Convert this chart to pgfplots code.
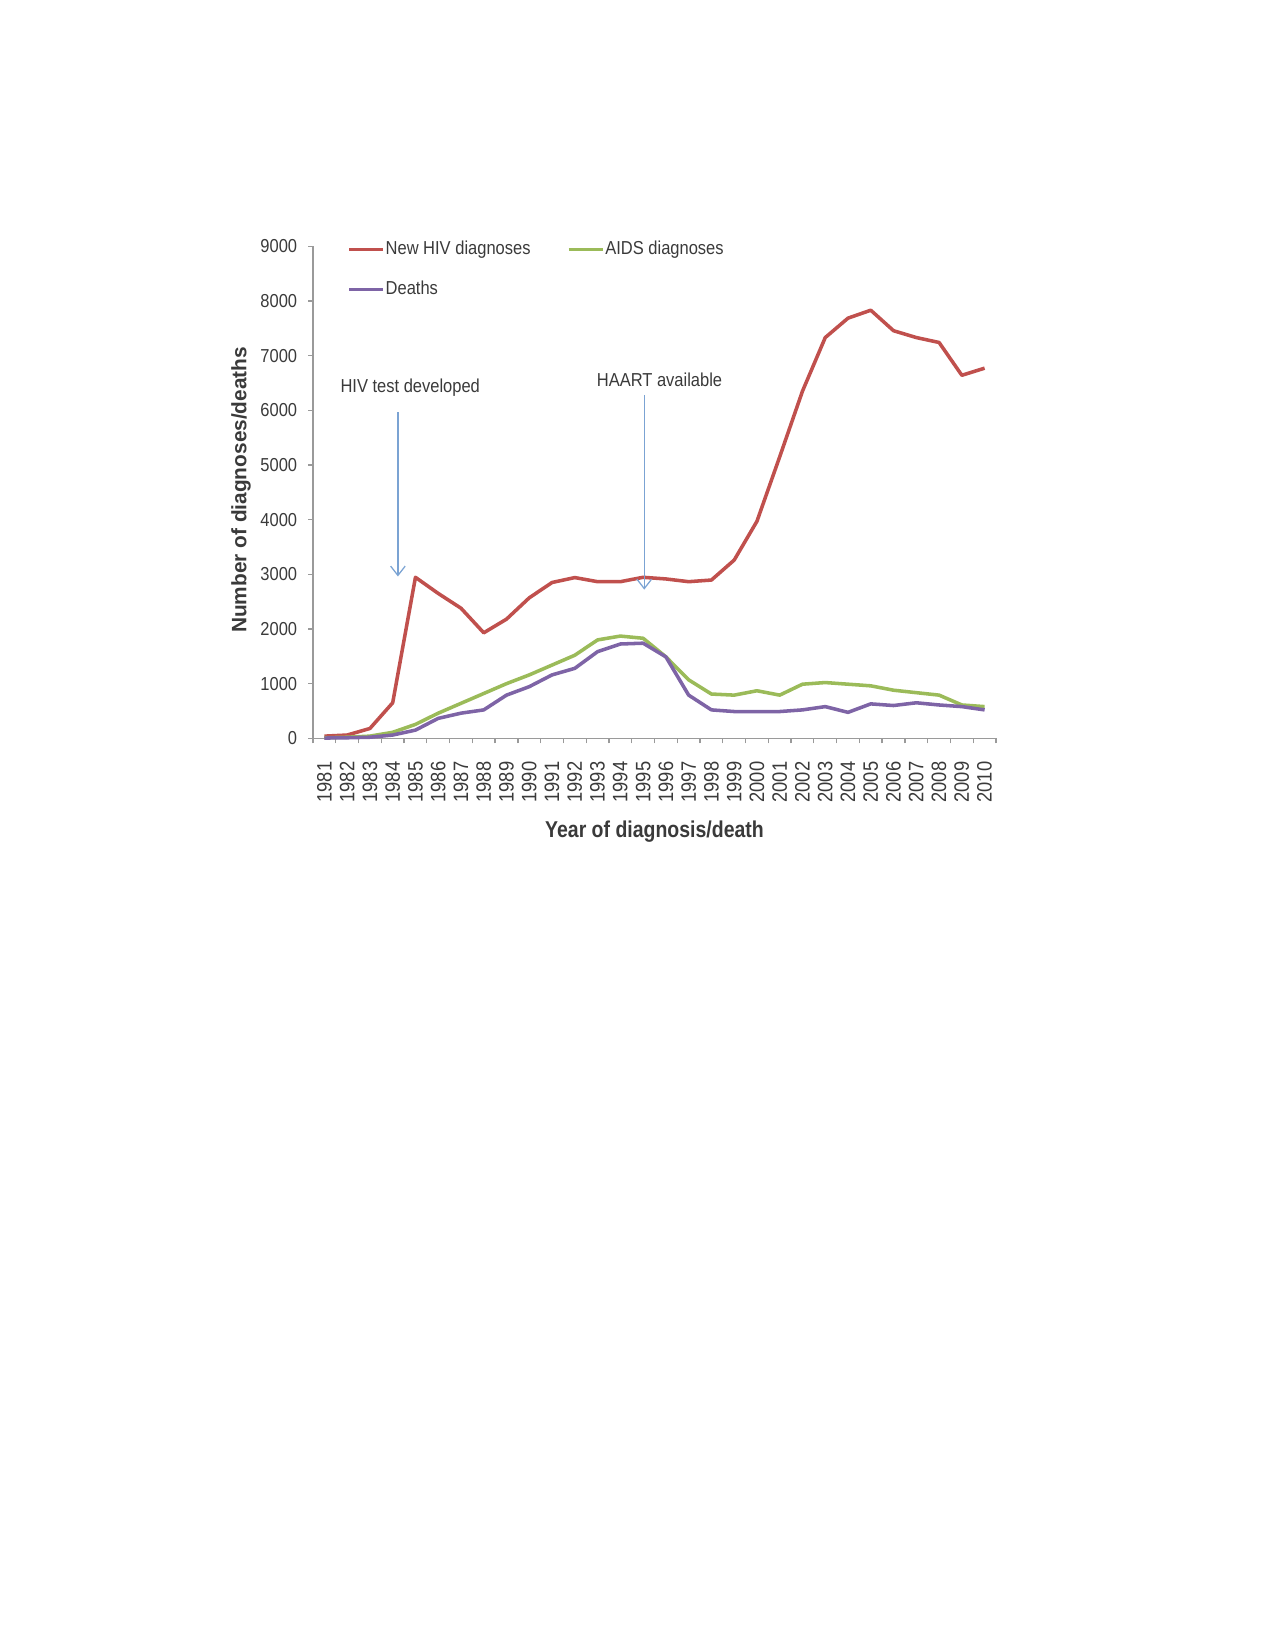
\documentclass[border=0pt]{standalone}
\usepackage{pgfplots}
\pgfplotsset{compat=1.18}
\usepackage{fontspec}
\setmainfont{Liberation Sans}
\newfontfamily\narrow{Liberation Sans}[FakeStretch=0.88]
\newfontfamily\narrowb{Liberation Sans}[FakeStretch=0.85]
\usetikzlibrary{arrows.meta}
\definecolor{cRed}{HTML}{C0504D}
\definecolor{cGreen}{HTML}{9BBB59}
\definecolor{cPurple}{HTML}{7E64A6}
\definecolor{axisgray}{HTML}{9A9A9A}
\definecolor{textgray}{HTML}{3A3A3A}
\definecolor{arrowblue}{HTML}{7BA3D3}
\begin{document}
\begin{tikzpicture}
\path[use as bounding box] (0,0) rectangle (612pt,792pt);
\begin{axis}[
  at={(150.24pt,437.6pt)}, anchor=south west,
  scale only axis, width=327.84pt, height=236.2pt,
  xmin=1980.5, xmax=2010.5, ymin=0, ymax=9000,
  axis x line*=bottom, axis y line*=left,
  axis line style={draw=axisgray, line width=0.7pt},
  /pgf/number format/assume math mode=true,
  /pgf/number format/1000 sep={},
  tick align=outside, major tick length=2.4pt,
  tick style={draw=axisgray, line width=0.6pt},
  xtick={1980.5,1981.5,...,2010.5},
  xticklabels={1981,1982,1983,1984,1985,1986,1987,1988,1989,1990,1991,1992,1993,1994,1995,1996,1997,1998,1999,2000,2001,2002,2003,2004,2005,2006,2007,2008,2009,2010,{}},
  x tick label style={font=\narrow\fontsize{10}{10}\selectfont, text=textgray, inner sep=0pt, xshift=5.46pt, yshift=-8.6pt, rotate=90, anchor=east},
  ytick={0,1000,...,9000},
  y tick label style={font=\narrow\fontsize{9}{9}\selectfont, text=textgray, inner sep=0pt, xshift=-5pt, anchor=east},
  xlabel={Year of diagnosis/death},
  ylabel={Number of diagnoses/deaths},
  every axis x label/.style={at={(axis description cs:0.5,-0.190)}, anchor=center, font=\narrowb\bfseries\fontsize{11}{11}\selectfont, text=textgray},
  every axis y label/.style={at={(axis description cs:-0.1054,0.505)}, anchor=center, rotate=90, font=\bfseries\fontsize{10}{10}\selectfont, text=textgray},
  legend columns=2,
  legend image code/.code={\draw[#1, line width=1.6pt] (0pt,0pt) -- (16.3pt,0pt);},
  legend style={at={(axis cs:1981.99,8580)}, anchor=west, draw=none, fill=none, inner sep=0pt,
    font=\narrow\fontsize{9}{9}\selectfont, text=textgray,
    nodes={inner sep=0.5pt, text height=6.6pt, text depth=2pt},
    row sep=9.6pt,
    /tikz/every even column/.append style={column sep=17pt}},
  legend cell align=left,
  clip=false,
]
\addplot[cRed, line width=1.7pt, line join=round, mark=none] coordinates {
(1981,40) (1982,60) (1983,180) (1984,650) (1985,2945) (1986,2650) (1987,2380) (1988,1930) (1989,2180) (1990,2570)
(1991,2850) (1992,2940) (1993,2865) (1994,2865) (1995,2945) (1996,2915) (1997,2865) (1998,2895) (1999,3260) (2000,3970)
(2001,5150) (2002,6350) (2003,7330) (2004,7685) (2005,7830) (2006,7455) (2007,7330) (2008,7240) (2009,6640) (2010,6770)};
\addlegendentry{New HIV\ diagnoses}
\addplot[cGreen, line width=1.7pt, line join=round, mark=none] coordinates {
(1981,10) (1982,20) (1983,40) (1984,110) (1985,255) (1986,460) (1987,640) (1988,820) (1989,1000) (1990,1160)
(1991,1340) (1992,1520) (1993,1800) (1994,1870) (1995,1830) (1996,1490) (1997,1070) (1998,810) (1999,790) (2000,870)
(2001,790) (2002,990) (2003,1020) (2004,990) (2005,960) (2006,880) (2007,835) (2008,790) (2009,610) (2010,580)};
\addlegendentry{AIDS diagnoses}
\addplot[cPurple, line width=1.7pt, line join=round, mark=none] coordinates {
(1981,5) (1982,10) (1983,20) (1984,60) (1985,150) (1986,365) (1987,460) (1988,520) (1989,790) (1990,945)
(1991,1160) (1992,1280) (1993,1585) (1994,1725) (1995,1740) (1996,1490) (1997,790) (1998,520) (1999,490) (2000,490)
(2001,490) (2002,520) (2003,580) (2004,475) (2005,630) (2006,600) (2007,650) (2008,610) (2009,580) (2010,520)};
\addlegendentry{Deaths}
\draw[arrowblue, line width=0.6pt, -{Straight Barb[length=4.5pt,width=7pt]}] (axis cs:1984.23,5960) -- (axis cs:1984.23,2960);
\draw[arrowblue, line width=0.6pt, -{Straight Barb[length=4.5pt,width=7pt]}] (axis cs:1995.05,6280) -- (axis cs:1995.05,2720);
\node[anchor=west, inner sep=0pt, font=\narrow\fontsize{9}{9}\selectfont, text=textgray] at (axis cs:1981.69,6408) {HIV test developed};
\node[anchor=west, inner sep=0pt, font=\narrow\fontsize{9}{9}\selectfont, text=textgray] at (axis cs:1992.95,6557) {HAART available};
\end{axis}
\end{tikzpicture}
\end{document}
